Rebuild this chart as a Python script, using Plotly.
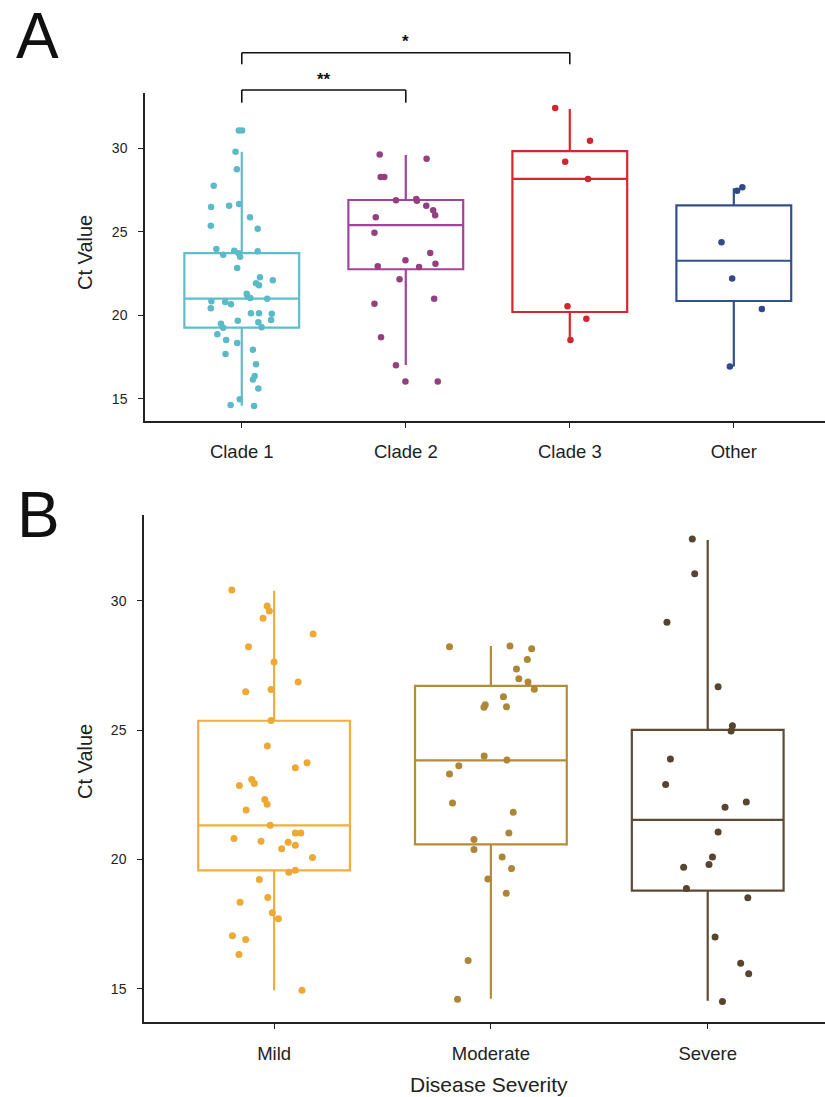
import plotly.graph_objects as go

# ---------------- data: panel A (clades) ----------------
clade_labels = ["Clade 1", "Clade 2", "Clade 3", "Other"]
clade_colors = ["#5FBECB", "#A0449C", "#D6272F", "#34508A"]
clade_point_colors = ["#5BBAC8", "#94407F", "#D02630", "#2F4A85"]

clade1_ct = [31.07, 31.07, 29.79, 28.74, 27.75, 26.48, 26.56, 26.66, 25.36, 25.86,
             25.18, 23.96, 23.62, 23.86, 23.71, 23.50, 23.83, 22.83, 22.27, 22.09,
             21.91, 21.79, 20.83, 20.79, 20.65, 20.41, 21.29, 21.11, 21.03, 20.99,
             20.11, 20.11, 20.09, 19.71, 19.67, 19.49, 19.25, 19.57, 19.27, 18.86,
             18.51, 18.34, 17.93, 17.68, 17.06, 16.36, 16.14, 15.60, 14.96, 14.62, 14.56]
clade1_jit = [-0.018, 0.002, -0.038, -0.030, -0.171, -0.187, -0.077, -0.016, -0.189, 0.050,
              0.097, -0.155, -0.113, -0.046, -0.020, -0.010, 0.097, -0.028, 0.111, 0.189,
              0.087, 0.105, -0.185, -0.101, -0.066, -0.189, 0.030, 0.036, 0.052, 0.155,
              0.056, 0.105, 0.183, 0.179, -0.024, -0.127, -0.113, 0.101, 0.121, -0.149,
              -0.095, -0.028, 0.068, -0.099, 0.087, 0.079, 0.068, 0.101, -0.012, -0.068, 0.075]

clade2_ct = [29.63, 29.37, 28.28, 28.28, 26.88, 26.96, 26.85, 26.56, 26.28, 25.98,
             25.86, 24.94, 23.72, 23.29, 23.08, 22.93, 22.89, 22.15, 20.69, 20.99,
             18.68, 17.00, 16.02, 16.02]
clade2_jit = [-0.159, 0.127, -0.153, -0.131, -0.060, 0.064, 0.068, 0.125, 0.167, 0.179,
              -0.183, -0.191, 0.149, -0.002, 0.181, -0.171, 0.081, -0.038, -0.191, 0.173,
              -0.151, -0.060, -0.002, 0.195]

clade3_ct = [32.41, 30.45, 29.19, 28.16, 20.53, 19.79, 18.51]
clade3_jit = [-0.089, 0.123, -0.028, 0.111, -0.014, 0.101, 0.004]

other_ct = [27.46, 27.66, 24.37, 22.19, 20.37, 16.92]
other_jit = [0.020, 0.052, -0.075, -0.010, 0.171, -0.024]

# box statistics (per clade)
A_q1 = [19.25, 22.75, 20.19, 20.85]
A_median = [20.99, 25.40, 28.17, 23.26]
A_q3 = [23.72, 26.90, 29.83, 26.58]
A_lower = [14.58, 17.02, 18.51, 16.92]
A_upper = [29.79, 29.59, 32.35, 27.60]

# ---------------- data: panel B (severity) ----------------
sev_labels = ["Mild", "Moderate", "Severe"]
sev_colors = ["#F2AE3C", "#B58C3A", "#5E4A35"]
sev_point_colors = ["#EEA935", "#AD8636", "#574530"]

mild_ct = [30.41, 29.79, 29.60, 29.32, 28.71, 28.22, 27.63, 26.86, 26.48, 26.57,
           25.37, 24.38, 23.54, 23.74, 22.86, 23.09, 22.94, 22.32, 22.13, 21.91,
           21.32, 20.81, 20.70, 20.41, 20.67, 20.55, 21.02, 21.02, 20.08, 19.51,
           19.58, 19.23, 18.35, 18.53, 17.94, 17.71, 17.05, 16.91, 16.33, 14.95]
mild_jit = [-0.195, -0.032, -0.022, -0.051, 0.180, -0.118, 0.000, 0.111, -0.131, -0.014,
            -0.014, -0.031, 0.098, 0.152, -0.160, -0.103, -0.091, -0.043, -0.032, -0.129,
            -0.018, -0.185, -0.060, 0.035, 0.065, 0.098, 0.098, 0.123, 0.177, 0.068,
            0.098, -0.068, -0.157, -0.029, -0.008, 0.020, -0.192, -0.131, -0.162, 0.129]

moderate_ct = [28.22, 28.25, 28.14, 27.73, 27.36, 26.98, 26.86, 26.58, 26.29, 25.98,
               25.88, 25.90, 24.00, 23.84, 23.62, 23.30, 22.18, 21.82, 21.02, 20.77,
               20.39, 20.10, 19.65, 19.25, 18.69, 16.10, 14.60]
moderate_jit = [-0.191, 0.088, 0.188, 0.168, 0.118, 0.129, 0.171, 0.200, 0.058, -0.026,
                -0.032, 0.072, -0.031, 0.074, -0.148, -0.191, -0.177, 0.103, 0.083, -0.078,
                -0.078, 0.052, 0.095, -0.014, 0.071, -0.105, -0.154]

severe_ct = [32.38, 31.04, 29.17, 26.67, 25.17, 24.96, 23.88, 22.90, 22.02, 22.22,
             21.06, 20.10, 19.81, 19.70, 18.88, 18.52, 17.00, 15.99, 15.58, 14.51]
severe_jit = [-0.071, -0.060, -0.188, 0.048, 0.114, 0.108, -0.172, -0.194, 0.080, 0.178,
              0.048, 0.022, 0.006, -0.111, -0.098, 0.185, 0.034, 0.152, 0.189, 0.068]

B_q1 = [19.58, 20.58, 18.80]
B_median = [21.32, 23.83, 21.53]
B_q3 = [25.36, 26.71, 25.01]
B_lower = [14.95, 14.62, 14.54]
B_upper = [30.38, 28.25, 32.34]

# significance brackets (panel A)
sig_pairs = [(1, 2), (1, 3)]
sig_labels = ["**", "*"]

# ---------------- figure ----------------
FONT = "Liberation Sans, Arial, Helvetica, sans-serif"
W, H = 825, 1097
fig = go.Figure()

A_points = [(clade1_ct, clade1_jit), (clade2_ct, clade2_jit),
            (clade3_ct, clade3_jit), (other_ct, other_jit)]
B_points = [(mild_ct, mild_jit), (moderate_ct, moderate_jit), (severe_ct, severe_jit)]

for i in range(4):
    fig.add_trace(go.Box(
        x=[i + 1], q1=[A_q1[i]], median=[A_median[i]], q3=[A_q3[i]],
        lowerfence=[A_lower[i]], upperfence=[A_upper[i]],
        width=0.7, whiskerwidth=0, boxpoints=False,
        line=dict(color=clade_colors[i], width=2.2),
        fillcolor="rgba(255,255,255,0)", showlegend=False,
        xaxis="x", yaxis="y"))
for i, (ct, jit) in enumerate(A_points):
    fig.add_trace(go.Scatter(
        x=[i + 1 + j for j in jit], y=ct, mode="markers",
        marker=dict(color=clade_point_colors[i], size=6.5, line=dict(width=0)),
        showlegend=False, xaxis="x", yaxis="y"))

for i in range(3):
    fig.add_trace(go.Box(
        x=[i + 1], q1=[B_q1[i]], median=[B_median[i]], q3=[B_q3[i]],
        lowerfence=[B_lower[i]], upperfence=[B_upper[i]],
        width=0.7, whiskerwidth=0, boxpoints=False,
        line=dict(color=sev_colors[i], width=2.2),
        fillcolor="rgba(255,255,255,0)", showlegend=False,
        xaxis="x2", yaxis="y2"))
for i, (ct, jit) in enumerate(B_points):
    fig.add_trace(go.Scatter(
        x=[i + 1 + j for j in jit], y=ct, mode="markers",
        marker=dict(color=sev_point_colors[i], size=7, line=dict(width=0)),
        showlegend=False, xaxis="x2", yaxis="y2"))

def px_x(p):
    return p / W

def px_y(p):
    return 1 - p / H

axis_common = dict(
    showline=True, linecolor="#222", linewidth=1.5, mirror=False,
    ticks="outside", ticklen=5, tickwidth=1.3, tickcolor="#222",
    showgrid=False, zeroline=False,
)
xtick_font = dict(family=FONT, color="#222", size=18.5)
ytick_font = dict(family=FONT, color="#222", size=14)

fig.update_layout(
    width=W, height=H,
    margin=dict(l=0, r=0, t=0, b=0),
    paper_bgcolor="white", plot_bgcolor="white",
    showlegend=False,
    font=dict(family=FONT, color="#222"),
    xaxis=dict(domain=[px_x(145), 1], range=[0.41, 4.556], anchor="y",
               tickvals=[1, 2, 3, 4], ticktext=clade_labels, tickfont=xtick_font,
               ticklabelstandoff=8, **axis_common),
    yaxis=dict(domain=[px_y(421), px_y(93)], range=[13.66, 33.31], anchor="x",
               tickvals=[15, 20, 25, 30], tickfont=ytick_font,
               ticklabelstandoff=8, **axis_common),
    xaxis2=dict(domain=[px_x(144), 1], range=[0.40, 3.541], anchor="y2",
                tickvals=[1, 2, 3], ticktext=sev_labels, tickfont=xtick_font,
                ticklabelstandoff=9, **axis_common),
    yaxis2=dict(domain=[px_y(1022), px_y(515)], range=[13.72, 33.31], anchor="x2",
                tickvals=[15, 20, 25, 30], tickfont=ytick_font,
                ticklabelstandoff=8, **axis_common),
)

# significance brackets
bracket_line_y = [90, 52.7]
bracket_tick_y = [102.7, 64.3]
bracket_text_y = [79, 41]
for k, ((a, b), lab) in enumerate(zip(sig_pairs, sig_labels)):
    yl = px_y(bracket_line_y[k])
    yt = px_y(bracket_tick_y[k])
    for (x0, y0, x1, y1) in [(a, yt, a, yl), (a, yl, b, yl), (b, yl, b, yt)]:
        fig.add_shape(type="line", xref="x", yref="paper", x0=x0, y0=y0, x1=x1, y1=y1,
                      line=dict(color="#111", width=1.6))
    fig.add_annotation(x=(a + b) / 2, xref="x", y=px_y(bracket_text_y[k]), yref="paper",
                       text="<b>" + lab + "</b>", showarrow=False,
                       font=dict(family=FONT, size=17, color="#111"),
                       xanchor="center", yanchor="middle")

# axis titles and panel letters
fig.add_annotation(x=px_x(85), y=px_y(253), xref="paper", yref="paper", text="Ct Value",
                   textangle=-90, showarrow=False, font=dict(family=FONT, size=20, color="#222"),
                   xanchor="center", yanchor="middle")
fig.add_annotation(x=px_x(85), y=px_y(762), xref="paper", yref="paper", text="Ct Value",
                   textangle=-90, showarrow=False, font=dict(family=FONT, size=20, color="#222"),
                   xanchor="center", yanchor="middle")
fig.add_annotation(x=px_x(489), y=px_y(1084), xref="paper", yref="paper", text="Disease Severity",
                   showarrow=False, font=dict(family=FONT, size=21, color="#222"),
                   xanchor="center", yanchor="middle")
fig.add_annotation(x=px_x(37), y=px_y(36), xref="paper", yref="paper", text="A",
                   showarrow=False, font=dict(family=FONT, size=64, color="#111"),
                   xanchor="center", yanchor="middle")
fig.add_annotation(x=px_x(38), y=px_y(515), xref="paper", yref="paper", text="B",
                   showarrow=False, font=dict(family=FONT, size=64, color="#111"),
                   xanchor="center", yanchor="middle")

fig.write_html("out.html", config={"displayModeBar": False},
               post_script="document.body.style.margin='0';document.body.style.padding='0';")
